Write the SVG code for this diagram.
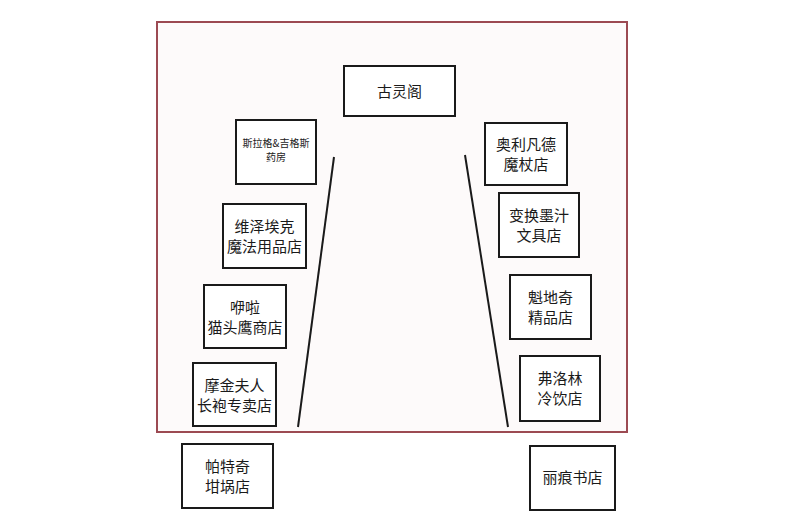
<svg xmlns="http://www.w3.org/2000/svg" width="800" height="519" viewBox="0 0 800 519">
<style>
.b{fill:#fff;stroke:#1a1a1a;stroke-width:2}
.t{font-family:"Noto Sans CJK SC","Liberation Sans",sans-serif;font-size:15px;fill:#1a1a1a;text-anchor:middle}
.s{font-size:10px}
.l{stroke:#1a1a1a;stroke-width:2}
</style>
<rect width="800" height="519" fill="#fff"/>
<rect x="157" y="22" width="470" height="410" fill="#fdfafa" stroke="#9c4a52" stroke-width="2"/>
<g id="connectors">
<line class="l" x1="334" y1="157" x2="298" y2="427"/>
<line class="l" x1="465" y1="155" x2="508" y2="427"/>
</g>
<g id="gringotts"><rect class="b" x="344" y="66" width="111" height="50"/><text class="t" x="399.5" y="97">古灵阁</text></g>
<g id="slug"><rect class="b" x="236" y="120" width="80" height="64"/><text class="t s" x="276" y="147">斯拉格&amp;吉格斯</text><text class="t s" x="276" y="161">药房</text></g>
<g id="wiseacre"><rect class="b" x="223" y="204" width="83" height="64"/><text class="t" x="264.5" y="232">维泽埃克</text><text class="t" x="264.5" y="252">魔法用品店</text></g>
<g id="eeylops"><rect class="b" x="204" y="285" width="82" height="63"/><text class="t" x="245" y="313">咿啦</text><text class="t" x="245" y="333">猫头鹰商店</text></g>
<g id="malkin"><rect class="b" x="193" y="363" width="83" height="63"/><text class="t" x="234.5" y="391">摩金夫人</text><text class="t" x="234.5" y="411">长袍专卖店</text></g>
<g id="potage"><rect class="b" x="182" y="444" width="91" height="64"/><text class="t" x="227.5" y="472">帕特奇</text><text class="t" x="227.5" y="492">坩埚店</text></g>
<g id="ollivander"><rect class="b" x="485" y="123" width="82" height="62"/><text class="t" x="526" y="150">奥利凡德</text><text class="t" x="526" y="170">魔杖店</text></g>
<g id="scribbulus"><rect class="b" x="499" y="193" width="80" height="64"/><text class="t" x="539" y="221">变换墨汁</text><text class="t" x="539" y="241">文具店</text></g>
<g id="quidditch"><rect class="b" x="510" y="275" width="81" height="64"/><text class="t" x="550.5" y="303">魁地奇</text><text class="t" x="550.5" y="323">精品店</text></g>
<g id="fortescue"><rect class="b" x="520" y="356" width="80" height="65"/><text class="t" x="560" y="384">弗洛林</text><text class="t" x="560" y="404">冷饮店</text></g>
<g id="flourish"><rect class="b" x="530" y="446" width="85" height="64"/><text class="t" x="572.5" y="483">丽痕书店</text></g>
</svg>
